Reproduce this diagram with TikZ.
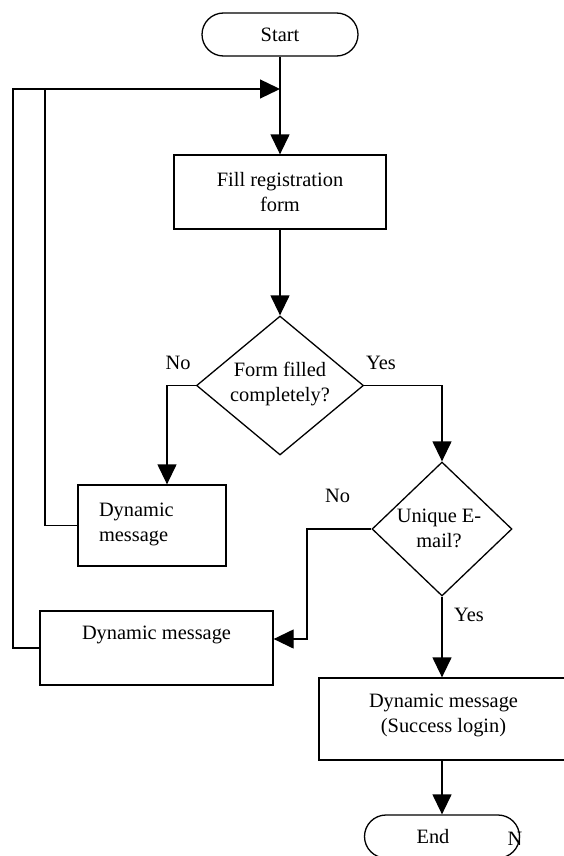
\documentclass[tikz,border=0pt]{standalone}
\usepackage{fontspec}
\setmainfont{Liberation Serif}
\usetikzlibrary{arrows.meta,shapes.geometric,shapes.misc}
\begin{document}
\begin{tikzpicture}[x=1pt,y=-1pt,
  font=\fontsize{20.4}{25}\selectfont,
  line width=1.3pt,
  txt/.style={inner sep=0pt, align=center},
  terminal/.style={draw, rounded rectangle, minimum width=156pt, minimum height=43pt, inner sep=0pt},
  procbox/.style={draw, rectangle, inner sep=0pt, align=center},
  decision/.style={draw, diamond, inner sep=0pt},
  arr/.style={-{Triangle[length=20pt,width=19pt]}},
  ]
% page frame
\fill[white] (0,0) rectangle (563,856);
\useasboundingbox (0,0) rectangle (563,856);

% main column
\node[terminal] (start) at (280,34.5) {Start};
\node[procbox, minimum width=212pt, minimum height=74pt] (fill) at (280,192) {Fill registration\\form};
\node[decision, minimum width=167pt, minimum height=139pt,
      label={[txt,yshift=1.5pt]center:{Form filled\\completely?}}] (d1) at (280,385.5) {};

% left branch
\node[procbox, minimum width=148pt, minimum height=81pt,
      label={[txt,align=left,anchor=west,xshift=21pt,yshift=1.5pt]west:{Dynamic\\message}}] (b1) at (152,525.5) {};

% right branch
\node[decision, minimum width=140pt, minimum height=134pt,
      label={[txt,xshift=-3pt,yshift=1pt]center:{Unique E-\\mail?}}] (d2) at (442,529) {};
\node[procbox, minimum width=233pt, minimum height=74pt,
      label={[txt,yshift=13pt]center:Dynamic message}] (b2) at (156.5,648) {};
\node[procbox, minimum width=249pt, minimum height=82pt,
      label={[txt,yshift=3.5pt]center:{Dynamic message\\(Success login)}}] (b3) at (443.5,719) {};
\node[terminal, minimum width=155pt,
      label={[txt,xshift=-9pt]center:End}] (end) at (442,836.5) {};
\node[txt] (nmark) at (515,839) {N};

% branch labels
\node[txt] (no1) at (178,363) {No};
\node[txt] (yes1) at (381,363) {Yes};
\node[txt] (no2) at (337.5,496) {No};
\node[txt] (yes2) at (469,615) {Yes};

% routing points
\coordinate (join) at (280,89);
\coordinate (outerc) at (13,89);
\coordinate (innerc) at (45,89);
\coordinate (lx) at (167,400);
\coordinate (k2) at (307,639);

% connectors
\draw[arr] (start.south) -- (fill.north);
\draw[arr] (fill.south) -- (d1.north);
\draw[arr] (d1.west) -| (lx |- b1.north);
\draw[arr] (d1.east) -| (d2.north);
\draw[arr] (d2.west) -| (k2) -- (k2 -| b2.east);
\draw[arr] (d2.south) -- (d2.south |- b3.north);
\draw[arr] (b3.south -| end.north) -- (end.north);

% return loops
\draw (b1.west) -| (innerc);
\draw[arr] (b2.west) -| (outerc) -- (join);
\end{tikzpicture}
\end{document}
